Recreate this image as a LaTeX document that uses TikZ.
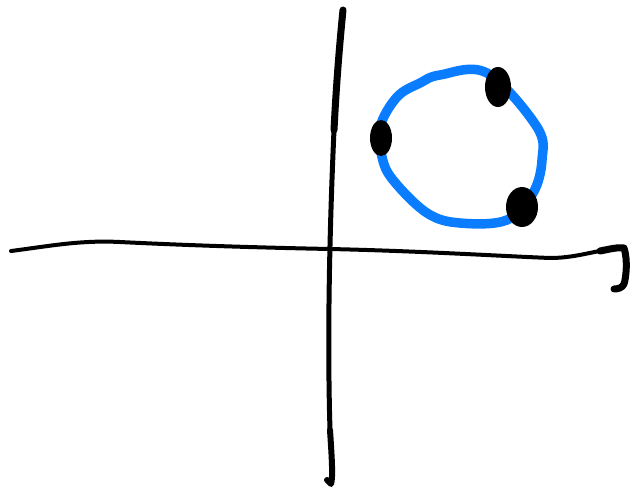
\documentclass[tikz,border=0pt]{standalone}
\definecolor{penblue}{HTML}{0A7CFF}
\tikzset{
  axisline/.style={line width=4pt, line cap=round, line join=round, black},
  ring/.style={line width=9.5pt, penblue, line join=round},
  blob/.style={fill=black, draw=none}
}
\begin{document}
\begin{tikzpicture}[x=1pt,y=-1pt]
\useasboundingbox (0,0) rectangle (637,491);
% vertical axis
\draw[axisline, line width=7pt] (343,10) .. controls (339,50) and (336,90) .. (334,130);
\draw[axisline, line width=5pt] (334,130) .. controls (330,220) and (327,330) .. (330,430);
\draw[axisline, line width=6pt] (330,430) .. controls (332,460) and (333,478) .. (331,484) -- (327,480);
% horizontal axis
\draw[axisline] (11,251) .. controls (50,246) and (80,240) .. (120,242)
  .. controls (200,246) and (280,248) .. (330,249)
  .. controls (420,251) and (500,256) .. (550,258)
  .. controls (580,258) and (600,248) .. (622,249);
\draw[axisline, line width=7pt] (600,251) .. controls (610,249) and (618,247) .. (624,248)
  .. controls (628,260) and (626,278) .. (624,284) .. controls (622,288) and (618,289) .. (614,289);
% blue ring
\draw[ring] plot[smooth cycle, tension=0.6] coordinates {
  (440,75) (487,73) (537,127) (542,160) (533,193) (507,220) (460,223)
  (427,213) (393,180) (382,157) (380,127) (397,97) (420,83)};
% dots
\fill[blob] (498,87) ellipse (13 and 20);
\fill[blob] (381,138) ellipse (11 and 18);
\fill[blob] (522,207) ellipse (16 and 20);
\end{tikzpicture}
\end{document}
